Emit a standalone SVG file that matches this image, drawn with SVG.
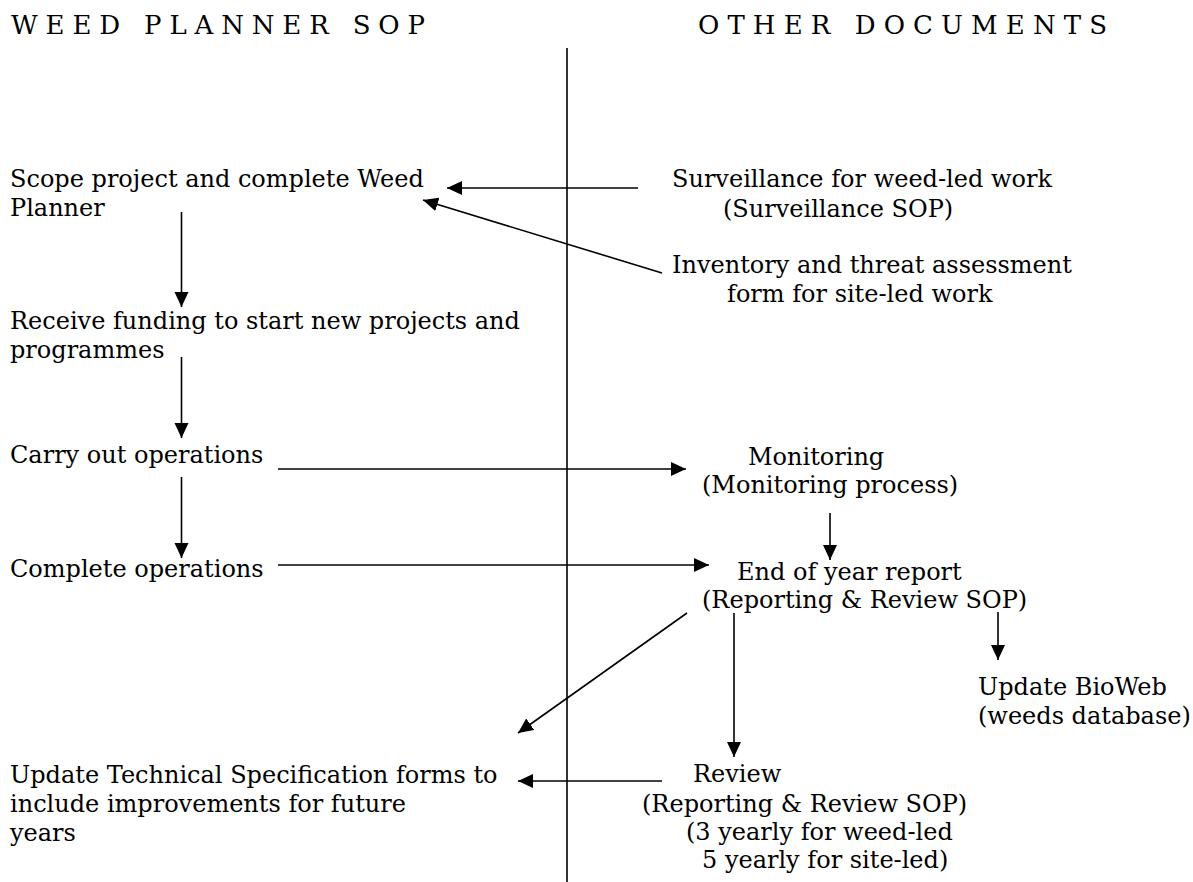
<svg xmlns="http://www.w3.org/2000/svg" width="1193" height="882" viewBox="0 0 1193 882">
<style>
text{font-family:"DejaVu Serif","Liberation Serif",serif;font-size:24px;fill:#000}
.title{font-size:26px}
.ln{stroke:#000;stroke-width:1.6;fill:none}
.arr{stroke:#000;stroke-width:1.6;fill:none;marker-end:url(#ah)}
</style>
<defs>
<marker id="ah" markerUnits="userSpaceOnUse" markerWidth="16" markerHeight="15" refX="15" refY="7" orient="auto">
<path d="M0,0 L15,7 L0,14 z" fill="#000"/>
</marker>
</defs>
<rect width="1193" height="882" fill="#fff"/>
<g id="titles">
<text class="title" x="11" y="34" textLength="414" lengthAdjust="spacing">WEED PLANNER SOP</text>
<text class="title" x="698" y="34" textLength="409" lengthAdjust="spacing">OTHER DOCUMENTS</text>
</g>
<g id="divider"><line class="ln" x1="567" y1="48" x2="567" y2="882"/></g>
<g id="scope"><text x="10" y="187">Scope project and complete Weed</text><text x="10" y="216">Planner</text></g>
<g id="receive"><text x="10" y="329">Receive funding to start new projects and</text><text x="10" y="358">programmes</text></g>
<g id="carry"><text x="10" y="463">Carry out operations</text></g>
<g id="complete"><text x="10" y="577">Complete operations</text></g>
<g id="update-tech"><text x="10" y="783">Update Technical Specification forms to</text><text x="10" y="812">include improvements for future</text><text x="10" y="841">years</text></g>
<g id="surveillance"><text x="672" y="187">Surveillance for weed-led work</text><text x="723" y="217">(Surveillance SOP)</text></g>
<g id="inventory"><text x="672" y="273">Inventory and threat assessment</text><text x="727" y="302">form for site-led work</text></g>
<g id="monitoring"><text x="748" y="465">Monitoring</text><text x="702" y="493">(Monitoring process)</text></g>
<g id="endofyear"><text x="737" y="580">End of year report</text><text x="702" y="608">(Reporting &amp; Review SOP)</text></g>
<g id="bioweb"><text x="978" y="695">Update BioWeb</text><text x="978" y="724">(weeds database)</text></g>
<g id="review"><text x="693" y="782">Review</text><text x="642" y="812">(Reporting &amp; Review SOP)</text><text x="686" y="840">(3 yearly for weed-led</text><text x="702" y="868">5 yearly for site-led)</text></g>
<g id="connectors">
<line class="arr" x1="638" y1="188" x2="447" y2="188"/>
<line class="arr" x1="662" y1="273" x2="423" y2="200"/>
<line class="arr" x1="181.5" y1="212" x2="181.5" y2="307"/>
<line class="arr" x1="181.5" y1="357" x2="181.5" y2="438"/>
<line class="arr" x1="181.5" y1="477" x2="181.5" y2="558"/>
<line class="arr" x1="278" y1="469" x2="686" y2="469"/>
<line class="arr" x1="278" y1="565" x2="709" y2="565"/>
<line class="arr" x1="830" y1="513" x2="830" y2="560"/>
<line class="arr" x1="687" y1="613" x2="518" y2="733"/>
<line class="arr" x1="734" y1="613" x2="734" y2="757"/>
<line class="arr" x1="998" y1="612" x2="998" y2="660"/>
<line class="arr" x1="662" y1="781" x2="518" y2="781"/>
</g>
</svg>
